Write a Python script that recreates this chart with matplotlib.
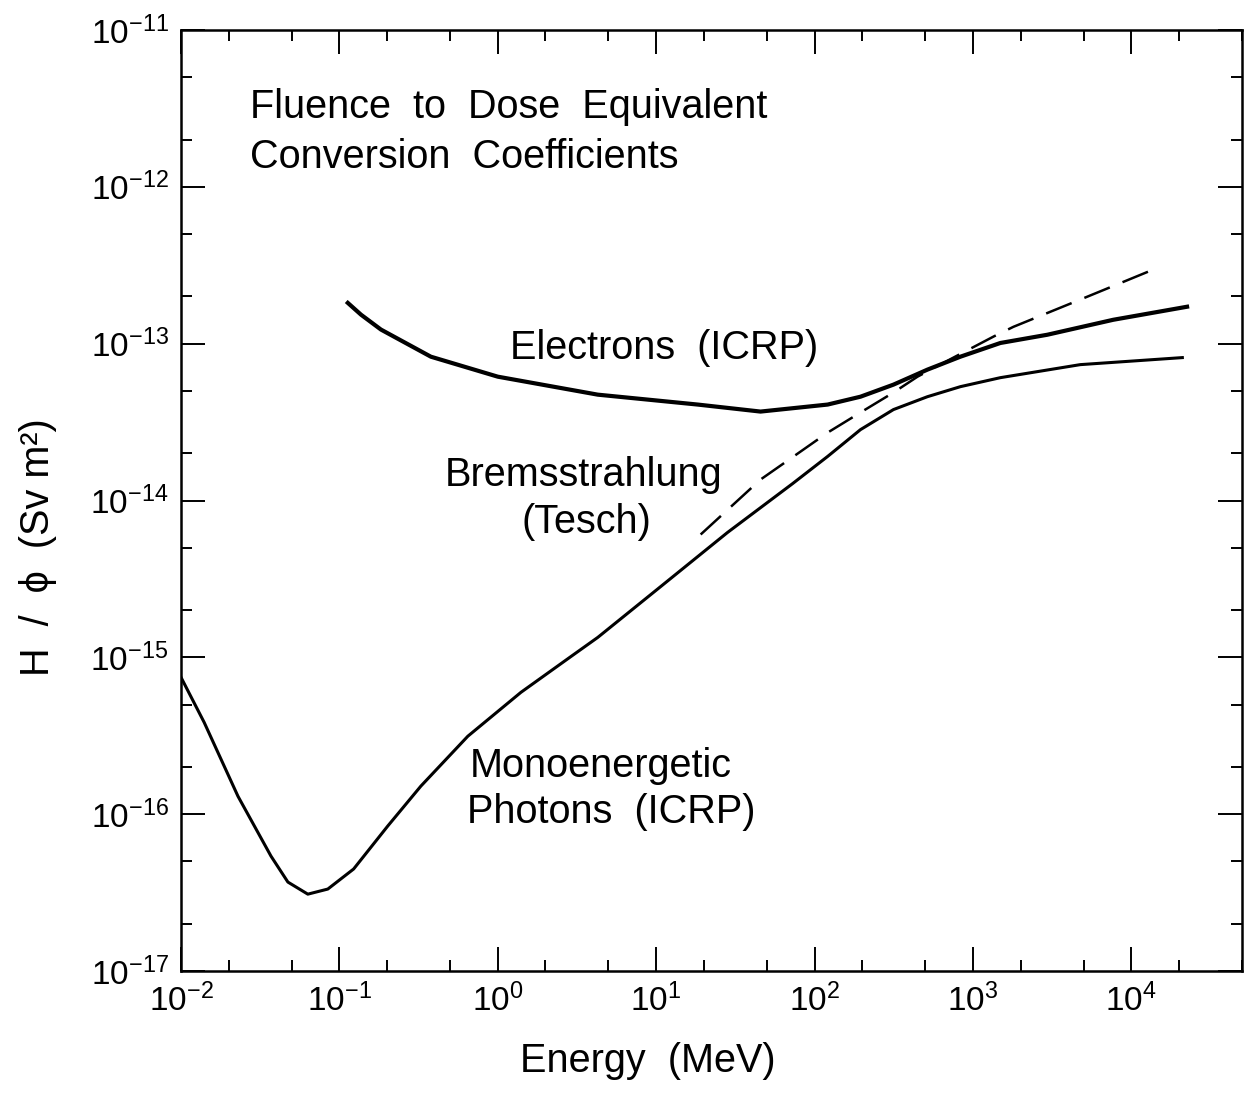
import matplotlib
matplotlib.use("Agg")
import matplotlib.pyplot as plt
from matplotlib.ticker import LogLocator, NullFormatter

plt.rcParams['font.family'] = ['Liberation Sans', 'DejaVu Sans']
plt.rcParams['mathtext.fontset'] = 'custom'
plt.rcParams['mathtext.rm'] = 'Liberation Sans'
plt.rcParams['mathtext.it'] = 'Liberation Sans:italic'
plt.rcParams['mathtext.bf'] = 'Liberation Sans:bold'

# Energy (MeV) and H/phi (Sv m^2)
photon_E = [0.010, 0.014, 0.0229, 0.037, 0.0473, 0.0632, 0.0845, 0.123, 0.202,
            0.327, 0.647, 1.40, 2.89, 4.28, 10.7, 28.2, 72.6, 121, 195, 315,
            516, 834, 1490, 4760, 21000]
photon_H = [7.46e-16, 3.85e-16, 1.30e-16, 5.4e-17, 3.69e-17, 3.09e-17, 3.33e-17,
            4.47e-17, 8.4e-17, 1.51e-16, 3.14e-16, 5.98e-16, 1.01e-15, 1.34e-15,
            2.83e-15, 6.25e-15, 1.28e-14, 1.91e-14, 2.83e-14, 3.80e-14, 4.59e-14,
            5.32e-14, 6.07e-14, 7.35e-14, 8.15e-14]

electron_E = [0.113, 0.137, 0.183, 0.378, 1.00, 4.28, 18.3, 45.6, 121, 195, 315,
              516, 834, 1490, 2950, 7690, 22500]
electron_H = [1.82e-13, 1.53e-13, 1.23e-13, 8.26e-14, 6.16e-14, 4.73e-14, 4.09e-14,
              3.69e-14, 4.09e-14, 4.59e-14, 5.48e-14, 6.83e-14, 8.26e-14, 1.01e-13,
              1.14e-13, 1.42e-13, 1.72e-13]

brems_E = [19.1, 45.6, 73.8, 121, 195, 315, 447, 753, 1350, 1800, 4760, 12800]
brems_H = [6.07e-15, 1.36e-14, 1.91e-14, 2.71e-14, 3.64e-14, 4.88e-14, 6.16e-14,
           8.15e-14, 1.11e-13, 1.28e-13, 1.91e-13, 2.88e-13]

fig = plt.figure(figsize=(12.56, 10.94), dpi=100)
ax = fig.add_axes([181/1256, 1 - 971/1094, (1242 - 181)/1256, (971 - 30)/1094])

ax.plot(photon_E, photon_H, color='black', lw=2.2)
ax.plot(electron_E, electron_H, color='black', lw=3.0)
ax.plot(brems_E, brems_H, color='black', lw=1.8, dashes=(11, 5.5))

ax.set_xscale('log')
ax.set_yscale('log')
ax.set_xlim(1e-2, 5e4)
ax.set_ylim(1e-17, 1e-11)

for axis in (ax.xaxis, ax.yaxis):
    axis.set_major_locator(LogLocator(base=10, numticks=20))
    axis.set_minor_locator(LogLocator(base=10, subs=(2, 5), numticks=20))
    axis.set_minor_formatter(NullFormatter())

ax.tick_params(which='both', direction='in', top=True, right=True, width=1.4)
ax.tick_params(which='major', length=17, labelsize=24, pad=9)
ax.tick_params(which='minor', length=8)
for s in ax.spines.values():
    s.set_linewidth(1.8)

ax.set_xlabel('Energy  (MeV)', fontsize=28.5, labelpad=14)
ax.xaxis.set_label_coords(0.44, -0.075)
ax.set_ylabel('H  /  ϕ  (Sv m²)', fontsize=28.5)
ax.yaxis.set_label_coords(-0.117, 0.45)

ax.text(0.065, 0.918, 'Fluence  to  Dose  Equivalent', transform=ax.transAxes,
        fontsize=28.5, va='center')
ax.text(0.065, 0.865, 'Conversion  Coefficients', transform=ax.transAxes,
        fontsize=28.5, va='center')
ax.text(0.310, 0.662, 'Electrons  (ICRP)', transform=ax.transAxes,
        fontsize=28.5, va='center')
ax.text(0.249, 0.527, 'Bremsstrahlung', transform=ax.transAxes,
        fontsize=28.5, va='center')
ax.text(0.321, 0.477, '(Tesch)', transform=ax.transAxes,
        fontsize=28.5, va='center')
ax.text(0.272, 0.218, 'Monoenergetic', transform=ax.transAxes,
        fontsize=28.5, va='center')
ax.text(0.270, 0.169, 'Photons  (ICRP)', transform=ax.transAxes,
        fontsize=28.5, va='center')

fig.savefig('out.png', dpi=100)
